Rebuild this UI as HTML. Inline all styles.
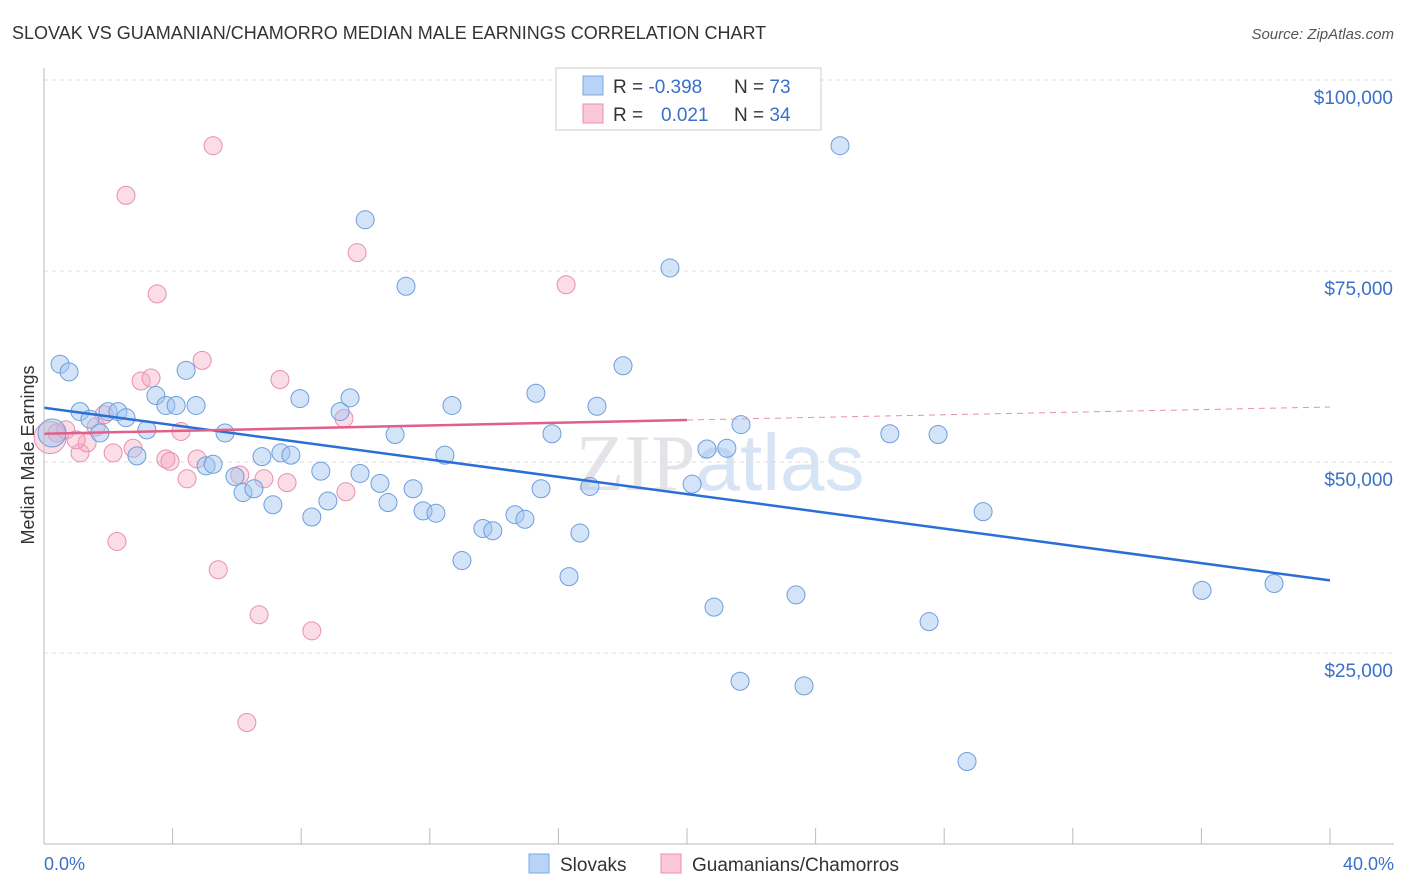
<!DOCTYPE html>
<html><head><meta charset="utf-8"><style>
body{margin:0;background:#fff;font-family:"Liberation Sans",sans-serif}
svg{display:block}
</style></head><body>
<svg id="c" width="1406" height="892">
<text x="12" y="39" font-size="18" fill="#333">SLOVAK VS GUAMANIAN/CHAMORRO MEDIAN MALE EARNINGS CORRELATION CHART</text>
<text x="1394" y="39" font-size="15" fill="#555" font-style="italic" text-anchor="end">Source: ZipAtlas.com</text>
<text x="720" y="490" font-size="80" fill="#e4e4e8" text-anchor="middle" font-family="Liberation Serif,serif">ZIP<tspan fill="#d6e4f5" font-family="Liberation Sans,sans-serif">atlas</tspan></text>
<g id="grid"></g><g id="pts"></g><g id="lines"></g>
<line x1="44" y1="68" x2="44" y2="844" stroke="#bbb"/>
<line x1="44" y1="844" x2="1394" y2="844" stroke="#bbb"/>
<text transform="translate(34,455) rotate(-90)" font-size="18" fill="#333" text-anchor="middle">Median Male Earnings</text>
<text x="44" y="870" font-size="18" fill="#3a70c8">0.0%</text>
<text x="1394" y="870" font-size="18" fill="#3a70c8" text-anchor="end">40.0%</text>
<g>
<rect x="556" y="68" width="265" height="62" fill="#fff" stroke="#ccc"/>
<rect x="583" y="76" width="20" height="19" fill="#b8d3f5" stroke="#7aa8e0"/>
<rect x="583" y="104" width="20" height="19" fill="#fac8d8" stroke="#e890ac"/>
<text x="613" y="93" font-size="19" fill="#333">R = <tspan fill="#3a70c8">-0.398</tspan><tspan x="734">N = </tspan><tspan fill="#3a70c8">73</tspan></text>
<text x="613" y="121" font-size="19" fill="#333">R = <tspan x="661" fill="#3a70c8">0.021</tspan><tspan x="734">N = </tspan><tspan fill="#3a70c8">34</tspan></text>
</g>
<g>
<rect x="529" y="854" width="20" height="19" fill="#b8d3f5" stroke="#7aa8e0"/>
<text x="560" y="871" font-size="19" fill="#333">Slovaks</text>
<rect x="661" y="854" width="20" height="19" fill="#fac8d8" stroke="#e890ac"/>
<text x="692" y="871" font-size="19" fill="#333">Guamanians/Chamorros</text>
</g>
</svg>
<script>
const yTicks=[25000,50000,75000,100000];
const yTickLabels=["$25,000","$50,000","$75,000","$100,000"];
const xTicks=[0,4,8,12,16,20,24,28,32,36,40];
const slovakX=[0.5,0.78,1.12,1.43,1.74,1.99,2.30,2.55,2.89,3.20,3.48,3.79,4.11,4.42,4.73,5.04,5.26,5.63,5.94,6.19,6.53,6.78,7.12,7.37,7.68,7.96,8.33,8.61,8.83,9.21,9.52,9.83,9.99,10.45,10.70,10.92,11.26,11.48,11.79,12.19,12.47,12.69,13.00,13.65,13.96,14.65,14.96,15.30,15.46,15.80,16.33,16.67,16.98,17.20,18.01,19.47,20.16,20.62,20.84,21.24,21.65,21.68,23.39,23.64,24.76,26.31,27.53,27.81,28.71,29.21,36.02,38.26,0.25];
const slovakY=[62800,61800,56600,55600,53800,56600,56600,55800,50800,54200,58700,57400,57400,62000,57400,49500,49700,53800,48100,46000,46500,50700,44400,51200,50900,58300,42800,48800,44900,56600,58400,48500,81700,47200,44700,53600,73000,46500,43600,43300,50900,57400,37100,41300,41000,43100,42500,59000,46500,53700,35000,40700,46800,57300,62600,75400,47100,51700,31000,51800,21300,54900,32600,20700,91400,53700,29100,53600,10800,43500,33200,34100,53800];
const guamX=[0.19,0.40,0.68,1.12,1.34,1.62,1.87,2.15,2.27,2.55,2.77,3.02,3.33,3.52,3.79,3.92,4.26,4.45,4.76,4.92,5.26,5.42,6.09,6.31,6.69,6.84,7.34,7.56,8.33,9.33,9.39,9.74,16.24,1.0];
const guamY=[53200,53800,54200,51200,52500,54600,56200,51200,39600,84900,51800,60600,61000,72000,50400,50100,54000,47800,50400,63300,91400,35900,48300,15900,30000,47800,60800,47300,27900,55700,46100,77400,73200,52900];
const slovakLine=[[0,57100],[40,34500]];
const guamSolid=[[0,53700],[20,55500]];
const guamDash=[[20,55500],[40,57200]];
const NS='http://www.w3.org/2000/svg';
const X=v=>44+v/40*1286, Y=v=>844-v/25000*191;
function mk(p,t,a){const e=document.createElementNS(NS,t);for(const k in a)e.setAttribute(k,a[k]);p.appendChild(e);return e;}
const grid=document.getElementById('grid'),pts=document.getElementById('pts'),lines=document.getElementById('lines');
yTicks.forEach((t,i)=>{
 const l=mk(grid,'line',{x1:44,x2:1394,y1:Y(t),y2:Y(t),stroke:'#ddd','stroke-dasharray':'4,4'});
 
 
 const tx=mk(grid,'text',{x:1393,y:Y(t)+24,'font-size':19,fill:'#3a70c8','text-anchor':'end'});
 tx.textContent=yTickLabels[i];
 
 
});
mk(grid,'line',{x1:44,x2:1394,y1:Y(100000)-0,y2:Y(100000),stroke:'#ddd','stroke-dasharray':'4,4'});
xTicks.forEach(t=>{
 const l=mk(grid,'line',{x1:X(t),x2:X(t),y1:828,y2:844,stroke:'#bbb'});
 
 
});
guamX.forEach((x,i)=>{
 const r=i===0?16:9;
 const c=mk(pts,'circle',{cx:X(x),cy:Y(guamY[i]),r:r,fill:'rgba(244,170,195,0.4)',stroke:'#e890ac','stroke-width':1});
 
 
});
slovakX.forEach((x,i)=>{
 const r=i===slovakX.length-1?14:9;
 const c=mk(pts,'circle',{cx:X(x),cy:Y(slovakY[i]),r:r,fill:'rgba(160,195,240,0.45)',stroke:'#6d9edc','stroke-width':1});
 
 
});
function ln(d,col,dash,name){
 const l=mk(lines,'line',{x1:X(d[0][0]),y1:Y(d[0][1]),x2:X(d[1][0]),y2:Y(d[1][1]),stroke:col,'stroke-width':dash?1:2.5});
 if(dash)l.setAttribute('stroke-dasharray','6,5');
 
 
}
ln(slovakLine,'#2a6fd6',false,'slovak-trend-line');
ln(guamSolid,'#e0608a',false,'guamanian-trend-line');
ln(guamDash,'#e890ac',true,'guamanian-trend-extension');
</script>
</body></html>
